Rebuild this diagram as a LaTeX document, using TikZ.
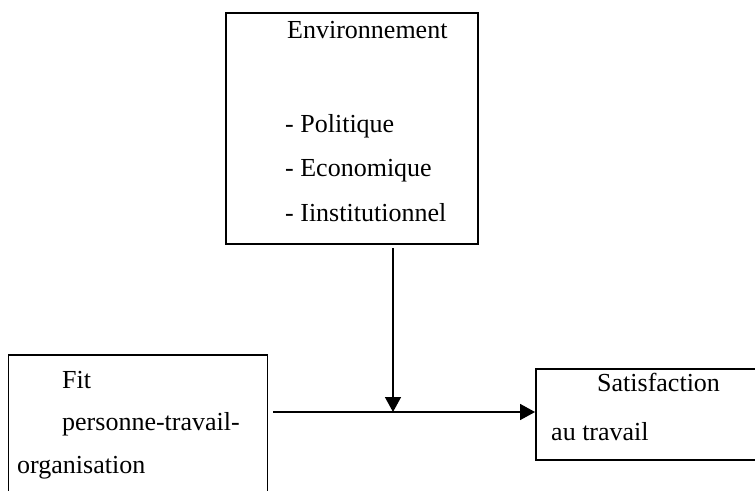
\documentclass[tikz,border=0pt]{standalone}
\usepackage{fontspec}
\setmainfont{Liberation Serif}
\usetikzlibrary{arrows.meta}
\begin{document}
\begin{tikzpicture}[x=1pt,y=-1pt,
  box/.style={draw, line width=1.9pt, rectangle, inner sep=0pt},
  txt/.style={anchor=base west, inner sep=0pt, font=\fontsize{26}{30}\selectfont},
  arr/.style={line width=1.5pt, -{Triangle[length=15pt,width=16pt]}}]
\useasboundingbox (0,0) rectangle (755,490);
\clip (0,0) rectangle (755,490);
\node[box, minimum width=252pt, minimum height=231pt] (env) at (352,128.5) {};
\node[box, minimum width=259pt, minimum height=180pt] (fit) at (138,445) {};
\node[box, minimum width=240pt, minimum height=91pt] (sat) at (656,414.5) {};
\coordinate (j) at (393,412);
\node[txt] (t1) at (287,38) {Environnement};
\node[txt] (t2) at (285,132) {- Politique};
\node[txt] (t3) at (285,176) {- Economique};
\node[txt] (t4) at (285,221) {- Iinstitutionnel};
\node[txt] (f1) at (62,388) {Fit};
\node[txt] (f2) at (62,430) {personne-travail-};
\node[txt] (f3) at (17,473) {organisation};
\node[txt] (s1) at (597,391) {Satisfaction};
\node[txt] (s2) at (551,440) {au travail};
\draw[arr] ([yshift=-3pt]env.south -| j) -- (j);
\draw[arr] ([xshift=5pt]fit.east |- j) -- (sat.west |- j);
\end{tikzpicture}
\end{document}
